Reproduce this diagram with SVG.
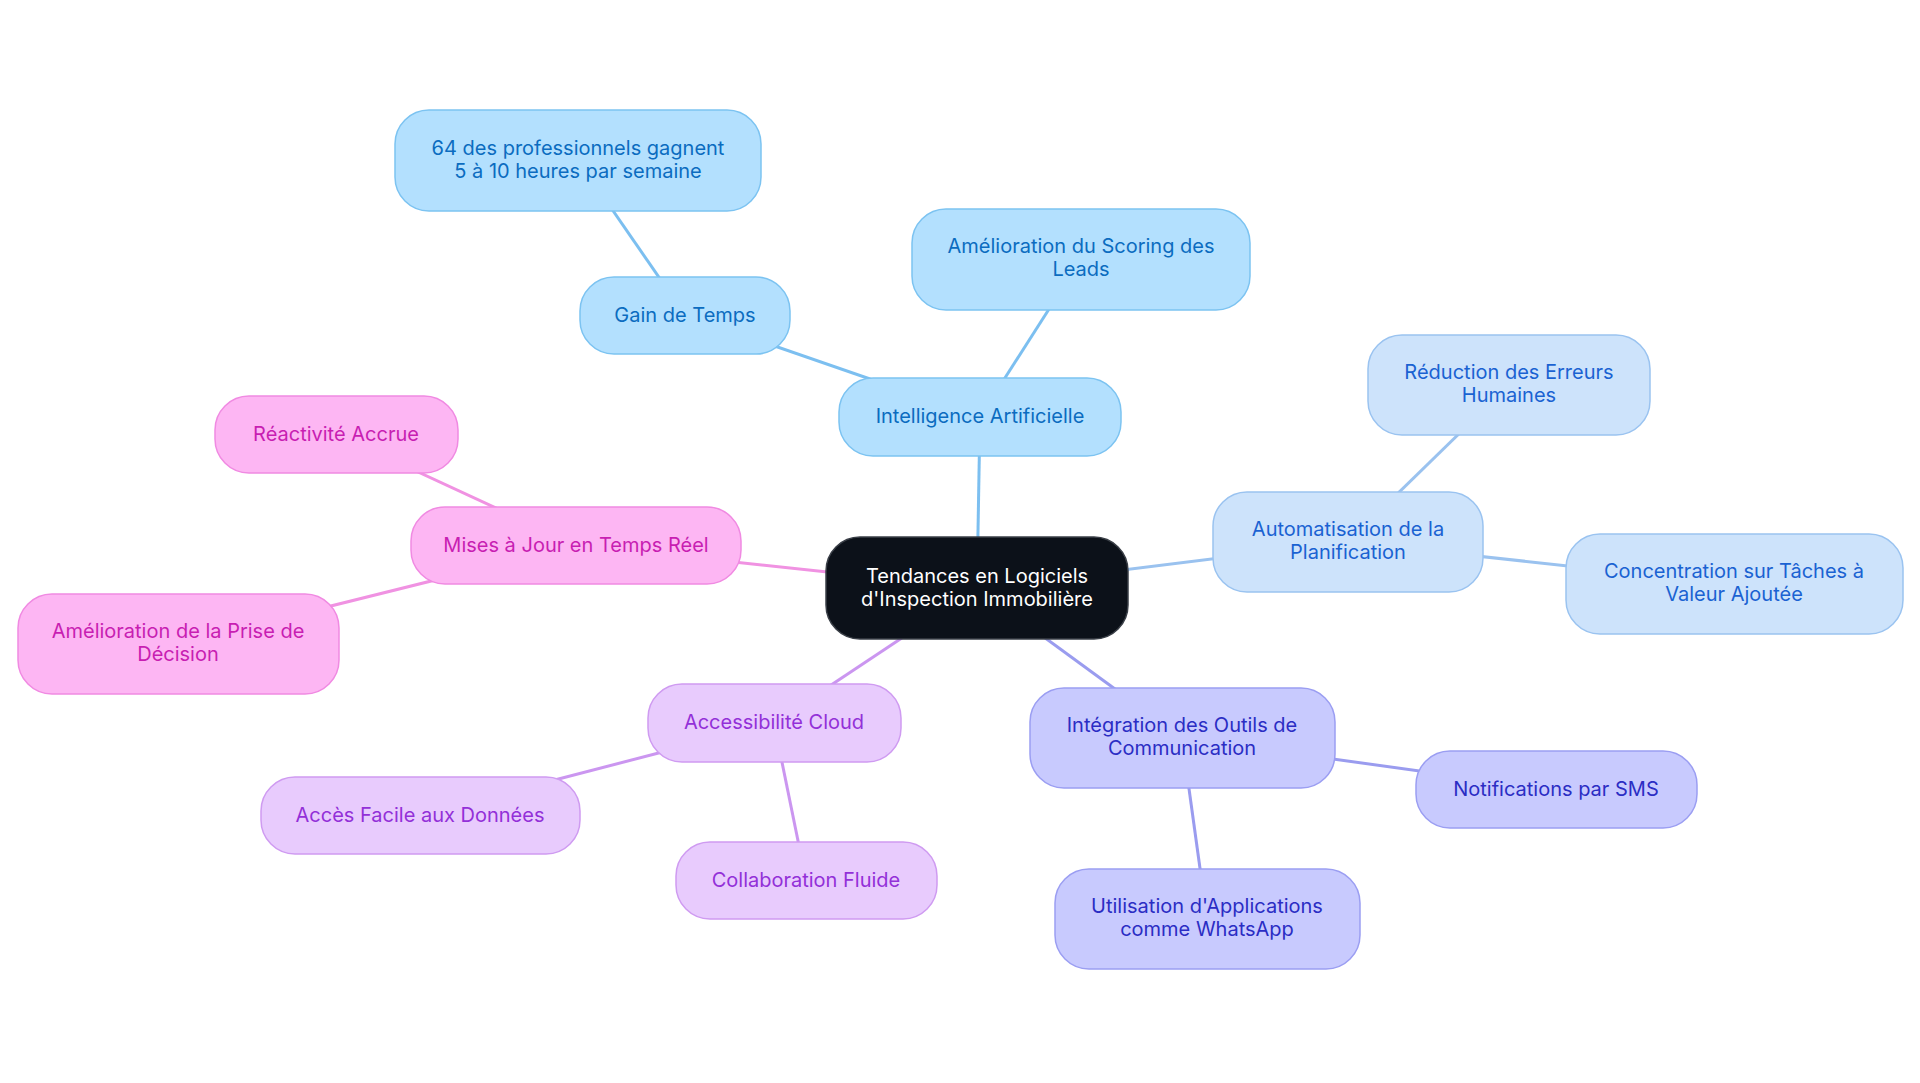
<svg xmlns="http://www.w3.org/2000/svg" width="1920" height="1083" viewBox="0 0 1920 1083">
<style>
text{font-family:Inter,"Noto Sans","Liberation Sans",sans-serif;font-size:20px;text-anchor:middle}
.e{stroke-width:3;fill:none}
.b1 rect{fill:#b3e0fe;stroke:#7cc3f1;stroke-width:1.5}
.b1 text{fill:#0b6cc0}
.b2 rect{fill:#cde3fb;stroke:#9ac3f0;stroke-width:1.5}
.b2 text{fill:#1a62d2}
.b3 rect{fill:#c8cafe;stroke:#9b9ef2;stroke-width:1.5}
.b3 text{fill:#2b2dc4}
.b4 rect{fill:#e8cbfd;stroke:#cf9bf1;stroke-width:1.5}
.b4 text{fill:#9330d8}
.b5 rect{fill:#fdb6f3;stroke:#f08ae2;stroke-width:1.5}
.b5 text{fill:#c81eb2}
</style>
<rect width="1920" height="1083" fill="#ffffff"/>
<g id="connectors">
<line class="e" stroke="#7cbff0" x1="977" y1="588" x2="980" y2="417"/>
<line class="e" stroke="#7cbff0" x1="980" y1="417" x2="685" y2="315"/>
<line class="e" stroke="#7cbff0" x1="685" y1="315" x2="578" y2="160"/>
<line class="e" stroke="#7cbff0" x1="980" y1="417" x2="1081" y2="259"/>
<line class="e" stroke="#9ac2ef" x1="977" y1="588" x2="1348" y2="542"/>
<line class="e" stroke="#9ac2ef" x1="1348" y1="542" x2="1509" y2="385"/>
<line class="e" stroke="#9ac2ef" x1="1348" y1="542" x2="1734" y2="584"/>
<line class="e" stroke="#9a9cef" x1="977" y1="588" x2="1182" y2="738"/>
<line class="e" stroke="#9a9cef" x1="1182" y1="738" x2="1556" y2="790"/>
<line class="e" stroke="#9a9cef" x1="1182" y1="738" x2="1207" y2="919"/>
<line class="e" stroke="#cb96f0" x1="977" y1="588" x2="774" y2="723"/>
<line class="e" stroke="#cb96f0" x1="774" y1="723" x2="420" y2="815"/>
<line class="e" stroke="#cb96f0" x1="774" y1="723" x2="806" y2="880"/>
<line class="e" stroke="#f092e2" x1="977" y1="588" x2="576" y2="545"/>
<line class="e" stroke="#f092e2" x1="576" y1="545" x2="336" y2="434"/>
<line class="e" stroke="#f092e2" x1="576" y1="545" x2="178" y2="644"/>
</g>
<g id="central">
<rect x="826" y="537" width="302" height="102" rx="34" fill="#0c1119" stroke="#3a3f47" stroke-width="1.5"/>
<text fill="#ffffff" x="977" y="583">Tendances en Logiciels</text>
<text fill="#ffffff" x="977" y="606">d'Inspection Immobilière</text>
</g>
<g id="ia" class="b1">
<rect x="839" y="378" width="282" height="78" rx="34"/>
<text x="980" y="423">Intelligence Artificielle</text>
</g>
<g id="gain" class="b1">
<rect x="580" y="277" width="210" height="77" rx="34"/>
<text x="685" y="322">Gain de Temps</text>
</g>
<g id="pro64" class="b1">
<rect x="395" y="110" width="366" height="101" rx="34"/>
<text x="578" y="155">64 des professionnels gagnent</text>
<text x="578" y="178">5 à 10 heures par semaine</text>
</g>
<g id="scoring" class="b1">
<rect x="912" y="209" width="338" height="101" rx="34"/>
<text x="1081" y="253">Amélioration du Scoring des</text>
<text x="1081" y="276">Leads</text>
</g>
<g id="auto" class="b2">
<rect x="1213" y="492" width="270" height="100" rx="34"/>
<text x="1348" y="536">Automatisation de la</text>
<text x="1348" y="559">Planification</text>
</g>
<g id="reduction" class="b2">
<rect x="1368" y="335" width="282" height="100" rx="34"/>
<text x="1509" y="379">Réduction des Erreurs</text>
<text x="1509" y="402">Humaines</text>
</g>
<g id="concentration" class="b2">
<rect x="1566" y="534" width="337" height="100" rx="34"/>
<text x="1734" y="578">Concentration sur Tâches à</text>
<text x="1734" y="601">Valeur Ajoutée</text>
</g>
<g id="integration" class="b3">
<rect x="1030" y="688" width="305" height="100" rx="34"/>
<text x="1182" y="732">Intégration des Outils de</text>
<text x="1182" y="755">Communication</text>
</g>
<g id="sms" class="b3">
<rect x="1416" y="751" width="281" height="77" rx="34"/>
<text x="1556" y="796">Notifications par SMS</text>
</g>
<g id="whatsapp" class="b3">
<rect x="1055" y="869" width="305" height="100" rx="34"/>
<text x="1207" y="913">Utilisation d'Applications</text>
<text x="1207" y="936">comme WhatsApp</text>
</g>
<g id="cloud" class="b4">
<rect x="648" y="684" width="253" height="78" rx="34"/>
<text x="774" y="729">Accessibilité Cloud</text>
</g>
<g id="acces" class="b4">
<rect x="261" y="777" width="319" height="77" rx="34"/>
<text x="420" y="822">Accès Facile aux Données</text>
</g>
<g id="collab" class="b4">
<rect x="676" y="842" width="261" height="77" rx="34"/>
<text x="806" y="887">Collaboration Fluide</text>
</g>
<g id="mises" class="b5">
<rect x="411" y="507" width="330" height="77" rx="34"/>
<text x="576" y="552">Mises à Jour en Temps Réel</text>
</g>
<g id="reactivite" class="b5">
<rect x="215" y="396" width="243" height="77" rx="34"/>
<text x="336" y="441">Réactivité Accrue</text>
</g>
<g id="decision" class="b5">
<rect x="18" y="594" width="321" height="100" rx="34"/>
<text x="178" y="638">Amélioration de la Prise de</text>
<text x="178" y="661">Décision</text>
</g>
</svg>
